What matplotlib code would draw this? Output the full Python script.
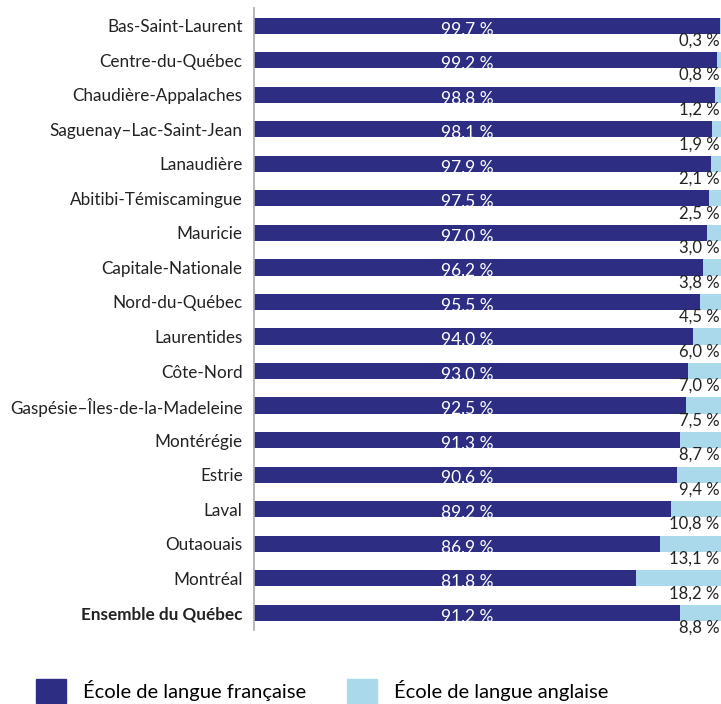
import matplotlib

matplotlib.use("Agg")
import matplotlib.pyplot as plt  # noqa: E402
from matplotlib.patches import Patch  # noqa: E402

regions = [
    "Bas-Saint-Laurent",
    "Centre-du-Québec",
    "Chaudière-Appalaches",
    "Saguenay–Lac-Saint-Jean",
    "Lanaudière",
    "Abitibi-Témiscamingue",
    "Mauricie",
    "Capitale-Nationale",
    "Nord-du-Québec",
    "Laurentides",
    "Côte-Nord",
    "Gaspésie–Îles-de-la-Madeleine",
    "Montérégie",
    "Estrie",
    "Laval",
    "Outaouais",
    "Montréal",
    "Ensemble du Québec",
]
francais = [99.7, 99.2, 98.8, 98.1, 97.9, 97.5, 97.0, 96.2, 95.5, 94.0,
            93.0, 92.5, 91.3, 90.6, 89.2, 86.9, 81.8, 91.2]
anglais = [0.3, 0.8, 1.2, 1.9, 2.1, 2.5, 3.0, 3.8, 4.5, 6.0,
           7.0, 7.5, 8.7, 9.4, 10.8, 13.1, 18.2, 8.8]

NAVY = "#2e2d84"
LIGHT = "#a9d9ea"
FONT = "Lato"


def fmt(v):
    return f"{v:.1f} %".replace(".", ",")


fig = plt.figure(figsize=(7.21, 7.04), dpi=100)
ax = fig.add_axes((0.352, 0.105, 0.648, 0.884))

y = list(range(len(regions)))
ax.barh(y, francais, height=0.47, color=NAVY)
ax.barh(y, anglais, left=francais, height=0.47, color=LIGHT)

for i, (f, a) in enumerate(zip(francais, anglais)):
    ax.text(45.6, i + 0.1, fmt(f), color="white", ha="center", va="center",
            fontsize=12.5, family=FONT)
    ax.text(99.7, i + 0.43, fmt(a), color="#222222", ha="right", va="center",
            fontsize=12, family=FONT)

ax.set_xlim(0, 100)
ax.set_ylim(len(regions) - 0.5, -0.52)
ax.set_yticks(y)
ax.set_yticklabels(regions, fontsize=12.3, family=FONT, color="#222222")
ax.get_yticklabels()[-1].set_fontweight("bold")
ax.tick_params(axis="y", length=0, pad=8)
ax.set_xticks([])
for side in ("top", "right", "bottom"):
    ax.spines[side].set_visible(False)
ax.spines["left"].set_color("#aaaaaa")
ax.spines["left"].set_linewidth(1.2)

handles = [Patch(color=NAVY, label="École de langue française"),
           Patch(color=LIGHT, label="École de langue anglaise")]
fig.legend(handles=handles, loc="lower left", bbox_to_anchor=(0.025, -0.025),
           ncol=2, frameon=False, handlelength=1.5, handleheight=1.5,
           columnspacing=2.0, handletextpad=0.85,
           prop={"family": FONT, "size": 14.5})

fig.savefig("out.png", dpi=100)
